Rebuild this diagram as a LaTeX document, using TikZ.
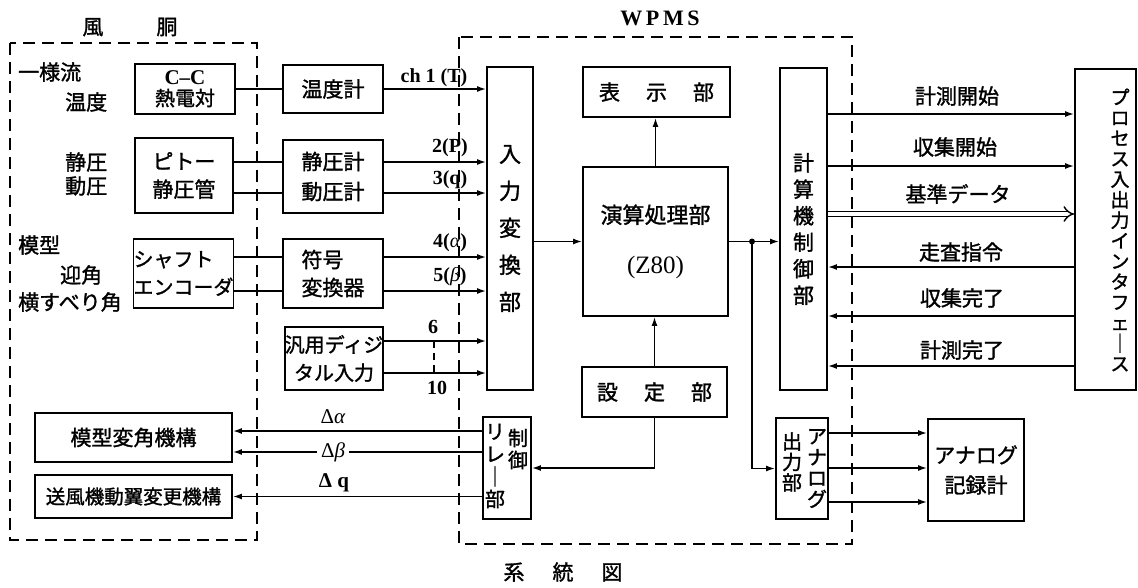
\documentclass[tikz,border=0pt]{standalone}
\usepackage{fontspec}
\setmainfont{Liberation Serif}
\newfontfamily\jpfam[AutoFakeBold=1.4]{Noto Sans CJK JP}
\newcommand\jp{\jpfam\bfseries}
\usetikzlibrary{arrows.meta}
\begin{document}
\begin{tikzpicture}[x=1pt,y=-1pt,
  box/.style={draw, line width=1.8pt, inner sep=0pt, align=center, font=\jp\fontsize{21}{28}\selectfont},
  conn/.style={line width=1.6pt},
  arr/.style={conn,-{Latex[length=9pt,width=6pt]}},
  jl/.style={inner sep=0pt, align=center, font=\jp\fontsize{21}{26}\selectfont},
  nl/.style={inner sep=0pt, font=\bfseries\fontsize{20}{22}\selectfont},
  region/.style={line width=1.8pt, dash pattern=on 12pt off 7pt},
  dline/.style={line width=1.6pt, dash pattern=on 7pt off 5pt},
]
\useasboundingbox (0,0) rectangle (1138,587);

% ---- wind tunnel boxes
\node[box, minimum width=100, minimum height=50, font=\jp\fontsize{20}{21}\selectfont] (cc) at (185,89) {{\rmfamily\bfseries\fontsize{21}{21}\selectfont C--C}\\熱電対};
\node[box, minimum width=98, minimum height=75] (pitot) at (184,175.5) {ピトー\\静圧管};
\node[box, minimum width=97, minimum height=69, align=left, font=\jp\fontsize{20}{28}\selectfont] (shaft) at (183.5,273.5) {シャフト\\エンコーダ};
\node[box, minimum width=197, minimum height=49] (henkaku) at (133.5,437.5) {模型変角機構};
\node[box, minimum width=197, minimum height=43, font=\jp\fontsize{19.5}{24}\selectfont] (soufuu) at (133.5,496.5) {送風機動翼変更機構};

% ---- middle column
\node[box, minimum width=100, minimum height=48] (ondo) at (333,89) {温度計};
\node[box, minimum width=100, minimum height=73, font=\jp\fontsize{21}{30}\selectfont] (seiatsu) at (333,176.5) {静圧計\\動圧計};
\node[box, minimum width=100, minimum height=69, align=left] (fugou) at (333,273.5) {符号\\変換器};
\node[box, minimum width=98, minimum height=63, font=\jp\fontsize{20}{28}\selectfont] (hanyou) at (334,358.5) {汎用ディジ\\タル入力};
\node[box, minimum width=46, minimum height=323, font=\jp\fontsize{22}{37}\selectfont] (nyu) at (510,228.5) {入\\力\\変\\換\\部};

% ---- WPMS
\node[box, minimum width=147, minimum height=50] (hyouji) at (656.5,92) {表\hspace{26pt}示\hspace{26pt}部};
\node[box, minimum width=145, minimum height=149, font=\jp\fontsize{22}{50}\selectfont] (enzan) at (655.5,241.5) {演算処理部\\{\rmfamily\mdseries\fontsize{25}{25}\selectfont(Z80)}};
\node[box, minimum width=145, minimum height=50] (settei) at (654.5,392) {設\hspace{26pt}定\hspace{26pt}部};
\node[box, minimum width=47, minimum height=322, font=\jp\fontsize{21}{26.5}\selectfont] (keisan) at (803.5,229) {計\\算\\機\\制\\御\\部};
\node[box, minimum width=48, minimum height=102] (relay) at (507,468) {};
\node[jl, font=\jp\fontsize{20}{22}\selectfont] (relayR) at (518,449) {制\\御};
\node[jl, font=\jp\fontsize{20}{22.5}\selectfont] (relayL) at (495,466) {リ\\レ\\｜\\部};
\node[box, minimum width=52, minimum height=101] (shutsu) at (802,468.5) {};
\node[jl, font=\jp\fontsize{20}{20.5}\selectfont] (shutsuL) at (792,462) {出\\力\\部};
\node[jl, font=\jp\fontsize{20}{21}\selectfont] (shutsuR) at (817,468.5) {ア\\ナ\\ロ\\グ};

% ---- right side
\node[box, minimum width=96, minimum height=102, font=\jp\fontsize{21}{30}\selectfont] (rec) at (976,470) {アナログ\\記録計};
\node[box, minimum width=61, minimum height=321] (proc) at (1105.5,229.5) {};
\node[jl, font=\jp\fontsize{19}{20.5}\selectfont] (procT) at (1120,230) {プ\\ロ\\セ\\ス\\入\\出\\力\\イ\\ン\\タ\\フ\\ェ\\｜\\ス};

% ---- titles and labels
\node[jl] (ttunnel) at (130,27) {風\hspace{53pt}胴};
\node[nl, font=\bfseries\fontsize{22}{24}\selectfont] (twpms) at (660,18) {W\,P\,M\,S};
\node[jl] (cap) at (563,572) {系\hspace{28pt}統\hspace{28pt}図};

\node[jl, anchor=west] (l1) at (18,72) {一様流};
\node[jl, anchor=west] (l2) at (65,102) {温度};
\node[jl, anchor=west] (l3) at (65,162) {静圧};
\node[jl, anchor=west] (l4) at (65,186) {動圧};
\node[jl, anchor=west] (l5) at (18,245) {模型};
\node[jl, anchor=west] (l6) at (60,275) {迎角};
\node[jl, anchor=west] (l7) at (18,302) {横すべり角};

\node[nl] (chT) at (434,78) {ch 1 (T)};
\node[nl] (chP) at (450,148) {2(P)};
\node[nl] (chQ) at (450,180) {3(q)};
\node[nl] (chA) at (450,243) {4({\mdseries\itshape α})};
\node[nl] (chB) at (450,277) {5({\mdseries\itshape β})};
\node[nl] (ch6) at (433,327) {6};
\node[nl] (ch10) at (437,388) {10};

\node[jl] (r1) at (957,96) {計測開始};
\node[jl] (r2) at (955,147) {収集開始};
\node[jl] (r3) at (958,194) {基準データ};
\node[jl] (r4) at (961,252) {走査指令};
\node[jl] (r5) at (962,298) {収集完了};
\node[jl] (r6) at (962,350) {計測完了};

% ---- level coordinates
\coordinate (yP) at (0,162);
\coordinate (yQ) at (0,193);
\coordinate (yA) at (0,257);
\coordinate (yB) at (0,291);
\coordinate (y6) at (0,341);
\coordinate (y10) at (0,373);
\coordinate (yDa) at (0,431);
\coordinate (yDb) at (0,452);
\coordinate (yR1) at (0,114);
\coordinate (yR2) at (0,166);
\coordinate (yR3) at (0,214);
\coordinate (yR4) at (0,267);
\coordinate (yR5) at (0,316);
\coordinate (yR6) at (0,366);
\coordinate (yO1) at (0,433);
\coordinate (yO2) at (0,468);
\coordinate (yO3) at (0,502);
\coordinate (d6) at (434,341);
\coordinate (d10) at (434,373);
\coordinate (jn) at (752,241.5);

% ---- connectors, inputs
\draw[conn] (cc.east) -- (ondo.west);
\draw[arr] (ondo.east) -- (ondo.east -| nyu.west);
\draw[conn] (pitot.east |- yP) -- (seiatsu.west |- yP);
\draw[conn] (pitot.east |- yQ) -- (seiatsu.west |- yQ);
\draw[arr] (seiatsu.east |- yP) -- (nyu.west |- yP);
\draw[arr] (seiatsu.east |- yQ) -- (nyu.west |- yQ);
\draw[conn] (shaft.east |- yA) -- (fugou.west |- yA);
\draw[conn] (shaft.east |- yB) -- (fugou.west |- yB);
\draw[arr] (fugou.east |- yA) -- (nyu.west |- yA);
\draw[arr] (fugou.east |- yB) -- (nyu.west |- yB);
\draw[arr] (hanyou.east |- y6) -- (nyu.west |- y6);
\draw[arr] (hanyou.east |- y10) -- (nyu.west |- y10);
\draw[dline] (d6) -- (d10);

% ---- core
\draw[arr] (nyu.east |- enzan.west) -- (enzan.west);
\draw[arr] (enzan.east) -- (enzan.east -| keisan.west);
\fill (jn) circle (3pt);
\draw[arr] (jn) |- (shutsu.west);
\draw[arr] (enzan.north) -- (enzan.north |- hyouji.south);
\draw[arr] (settei.north) -- (settei.north |- enzan.south);
\draw[arr] (settei.south) |- (relay.east);

% ---- relay outputs
\draw[arr] (relay.west |- yDa) -- (henkaku.east |- yDa);
\draw[arr] (relay.west |- yDb) -- (henkaku.east |- yDb);
\draw[arr] (relay.west |- soufuu.east) -- (soufuu.east);
\node[nl, font=\fontsize{21}{22}\selectfont] (dA) at (333,417) {Δ\textit{α}};
\node[nl, font=\fontsize{21}{22}\selectfont, fill=white, inner xsep=4pt] (dB) at (333,452) {Δ\textit{β}};
\node[nl, font=\bfseries\fontsize{21}{22}\selectfont] (dQ) at (334,483) {Δ q};

% ---- computer control <-> process I/O
\draw[arr] (keisan.east |- yR1) -- (proc.west |- yR1);
\draw[arr] (keisan.east |- yR2) -- (proc.west |- yR2);
\draw[double, double distance=4pt, line width=1.4pt, -{Implies}] (keisan.east |- yR3) -- (proc.west |- yR3);
\draw[arr] (proc.west |- yR4) -- (keisan.east |- yR4);
\draw[arr] (proc.west |- yR5) -- (keisan.east |- yR5);
\draw[arr] (proc.west |- yR6) -- (keisan.east |- yR6);

% ---- analog
\draw[arr] (shutsu.east |- yO1) -- (rec.west |- yO1);
\draw[arr] (shutsu.east |- yO2) -- (rec.west |- yO2);
\draw[arr] (shutsu.east |- yO3) -- (rec.west |- yO3);

% ---- dashed regions
\draw[region] (10,43) rectangle (257,540);
\draw[region] (459,37) rectangle (852,544);
\end{tikzpicture}
\end{document}
